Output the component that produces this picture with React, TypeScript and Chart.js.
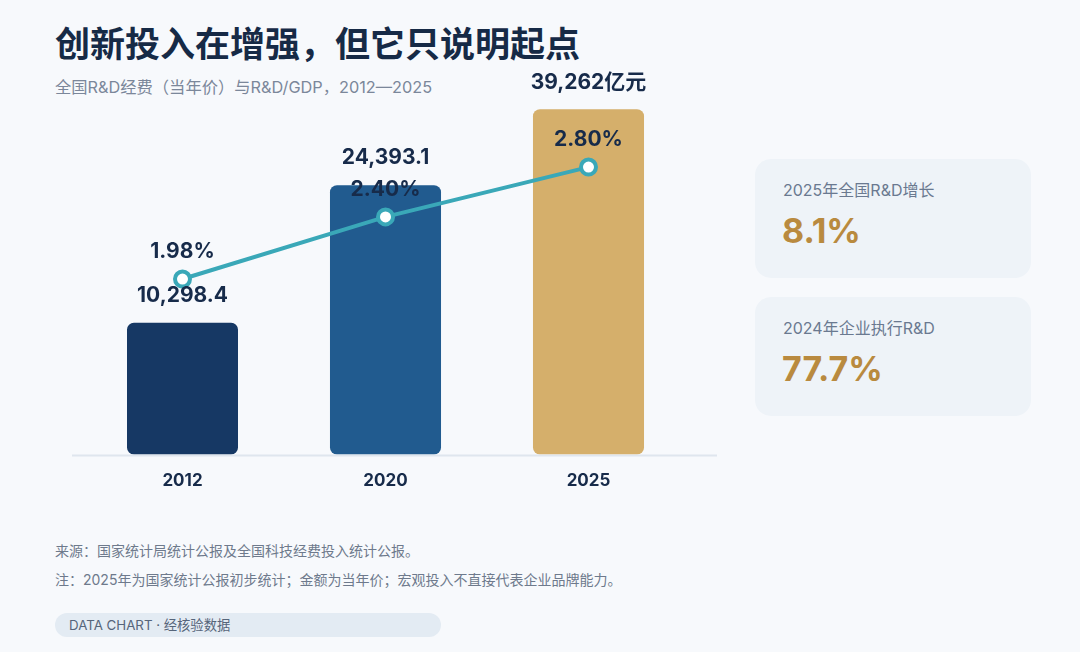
import React, { useEffect, useRef } from "react";
import { Chart, registerables } from "chart.js";

Chart.register(...registerables);

const years = ["2012", "2020", "2025"];
const rdSpend = [10298.4, 24393.1, 39262];
const rdGdp = [1.98, 2.4, 2.8];
const barColors = ["#163864", "#215b8f", "#d5af6b"];
const spendUnit = "亿元";

const FONT = 'Inter, "Noto Sans CJK SC", sans-serif';
const INK = "#172b4a";
const TEAL = "#3aa8b8";

function fmtSpend(v: number, i: number) {
  const s =
    v % 1 !== 0
      ? v.toLocaleString("en-US", { minimumFractionDigits: 1, maximumFractionDigits: 1 })
      : v.toLocaleString("en-US");
  return i === rdSpend.length - 1 ? s + spendUnit : s;
}

const decorPlugin = {
  id: "decor",
  beforeDatasetsDraw(chart: any) {
    const { ctx, chartArea } = chart;
    ctx.save();
    ctx.strokeStyle = "#dfe6ee";
    ctx.lineWidth = 2;
    ctx.beginPath();
    ctx.moveTo(chartArea.left - 9, chartArea.bottom + 1);
    ctx.lineTo(chartArea.right + 27, chartArea.bottom + 1);
    ctx.stroke();
    ctx.restore();
  },
  afterDatasetsDraw(chart: any) {
    const { ctx } = chart;
    ctx.save();
    ctx.font = `700 21px ${FONT}`;
    ctx.fillStyle = INK;
    ctx.textAlign = "center";
    ctx.textBaseline = "middle";
    chart.getDatasetMeta(0).data.forEach((el: any, i: number) => {
      ctx.fillText(fmtSpend(rdSpend[i], i), el.x, el.y - 27);
    });
    chart.getDatasetMeta(1).data.forEach((el: any, i: number) => {
      ctx.fillText(rdGdp[i].toFixed(2) + "%", el.x, el.y - 27);
    });
    ctx.restore();
  },
};

function RDChart() {
  const ref = useRef<HTMLCanvasElement | null>(null);
  useEffect(() => {
    if (!ref.current) return;
    const chart = new Chart(ref.current, {
      type: "bar",
      data: {
        labels: years,
        datasets: [
          {
            type: "bar",
            data: rdSpend,
            backgroundColor: barColors,
            borderRadius: 7,
            borderSkipped: false,
            categoryPercentage: 1,
            barPercentage: 0.547,
            yAxisID: "y",
            order: 2,
          } as any,
          {
            type: "line",
            data: rdGdp,
            borderColor: TEAL,
            borderWidth: 4,
            pointRadius: 7.5,
            pointBackgroundColor: "#ffffff",
            pointBorderColor: TEAL,
            pointBorderWidth: 4,
            tension: 0,
            yAxisID: "y1",
            order: 1,
          } as any,
        ],
      },
      options: {
        animation: false,
        responsive: false,
        devicePixelRatio: window.devicePixelRatio || 1,
        layout: { padding: { left: 81, right: 50, top: 60, bottom: 13 } },
        plugins: { legend: { display: false }, tooltip: { enabled: false } },
        scales: {
          x: {
            type: "category",
            grid: { display: false, drawTicks: false },
            border: { display: false },
            ticks: { color: INK, padding: 16, font: { family: FONT, size: 17, weight: "bold" } },
          },
          y: { type: "logarithmic", display: false, min: 4500, max: 53500 },
          y1: { type: "logarithmic", display: false, min: 1.15, max: 3.9, position: "right" },
        },
      } as any,
      plugins: [decorPlugin],
    });
    return () => chart.destroy();
  }, []);
  return (
    <canvas
      ref={ref}
      width={740}
      height={520}
      style={{ position: "absolute", left: 0, top: 0, width: 740, height: 520 }}
    />
  );
}

const card: React.CSSProperties = {
  position: "absolute",
  left: 755,
  width: 276,
  height: 119,
  borderRadius: 16,
  background: "#eef3f8",
};
const cardLabel: React.CSSProperties = {
  position: "absolute",
  left: 28,
  fontSize: 16,
  lineHeight: "16px",
  color: "#6a7990",
  whiteSpace: "nowrap",
};
const cardValue: React.CSSProperties = {
  position: "absolute",
  left: 27,
  fontSize: 34,
  lineHeight: "34px",
  fontWeight: 700,
  color: "#b98a3f",
  whiteSpace: "nowrap",
};

export default function App() {
  return (
    <div
      style={{
        position: "absolute",
        left: 0,
        top: 0,
        width: 1080,
        height: 652,
        overflow: "hidden",
        background: "#f7f9fc",
        fontFamily: FONT,
      }}
    >
      <div
        style={{
          position: "absolute",
          left: 55,
          top: 27,
          fontSize: 35,
          lineHeight: "35px",
          fontWeight: 700,
          color: "#162a46",
          whiteSpace: "nowrap",
        }}
      >
        创新投入在增强，但它只说明起点
      </div>
      <div
        style={{
          position: "absolute",
          left: 55,
          top: 79,
          fontSize: 16.3,
          lineHeight: "16px",
          color: "#7b879a",
          whiteSpace: "nowrap",
        }}
      >
        全国R&amp;D经费（当年价）与R&amp;D/GDP，2012—2025
      </div>

      <RDChart />

      <div style={{ ...card, top: 159 }}>
        <div style={{ ...cardLabel, top: 23 }}>2025年全国R&amp;D增长</div>
        <div style={{ ...cardValue, top: 55 }}>8.1%</div>
      </div>
      <div style={{ ...card, top: 297 }}>
        <div style={{ ...cardLabel, top: 23 }}>2024年企业执行R&amp;D</div>
        <div style={{ ...cardValue, top: 55 }}>77.7%</div>
      </div>

      <div
        style={{
          position: "absolute",
          left: 55,
          top: 544,
          fontSize: 14,
          lineHeight: "14px",
          color: "#6e7a8c",
          whiteSpace: "nowrap",
        }}
      >
        来源：国家统计局统计公报及全国科技经费投入统计公报。
      </div>
      <div
        style={{
          position: "absolute",
          left: 55,
          top: 573,
          fontSize: 14,
          lineHeight: "14px",
          color: "#6e7a8c",
          whiteSpace: "nowrap",
        }}
      >
        注：2025年为国家统计公报初步统计；金额为当年价；宏观投入不直接代表企业品牌能力。
      </div>
      <div
        style={{
          position: "absolute",
          left: 55,
          top: 613,
          width: 386,
          height: 24,
          borderRadius: 12,
          background: "#e3ebf3",
          fontSize: 13.3,
          lineHeight: "24px",
          color: "#56657a",
          paddingLeft: 14,
          boxSizing: "border-box",
          whiteSpace: "nowrap",
        }}
      >
        DATA CHART · 经核验数据
      </div>
    </div>
  );
}
